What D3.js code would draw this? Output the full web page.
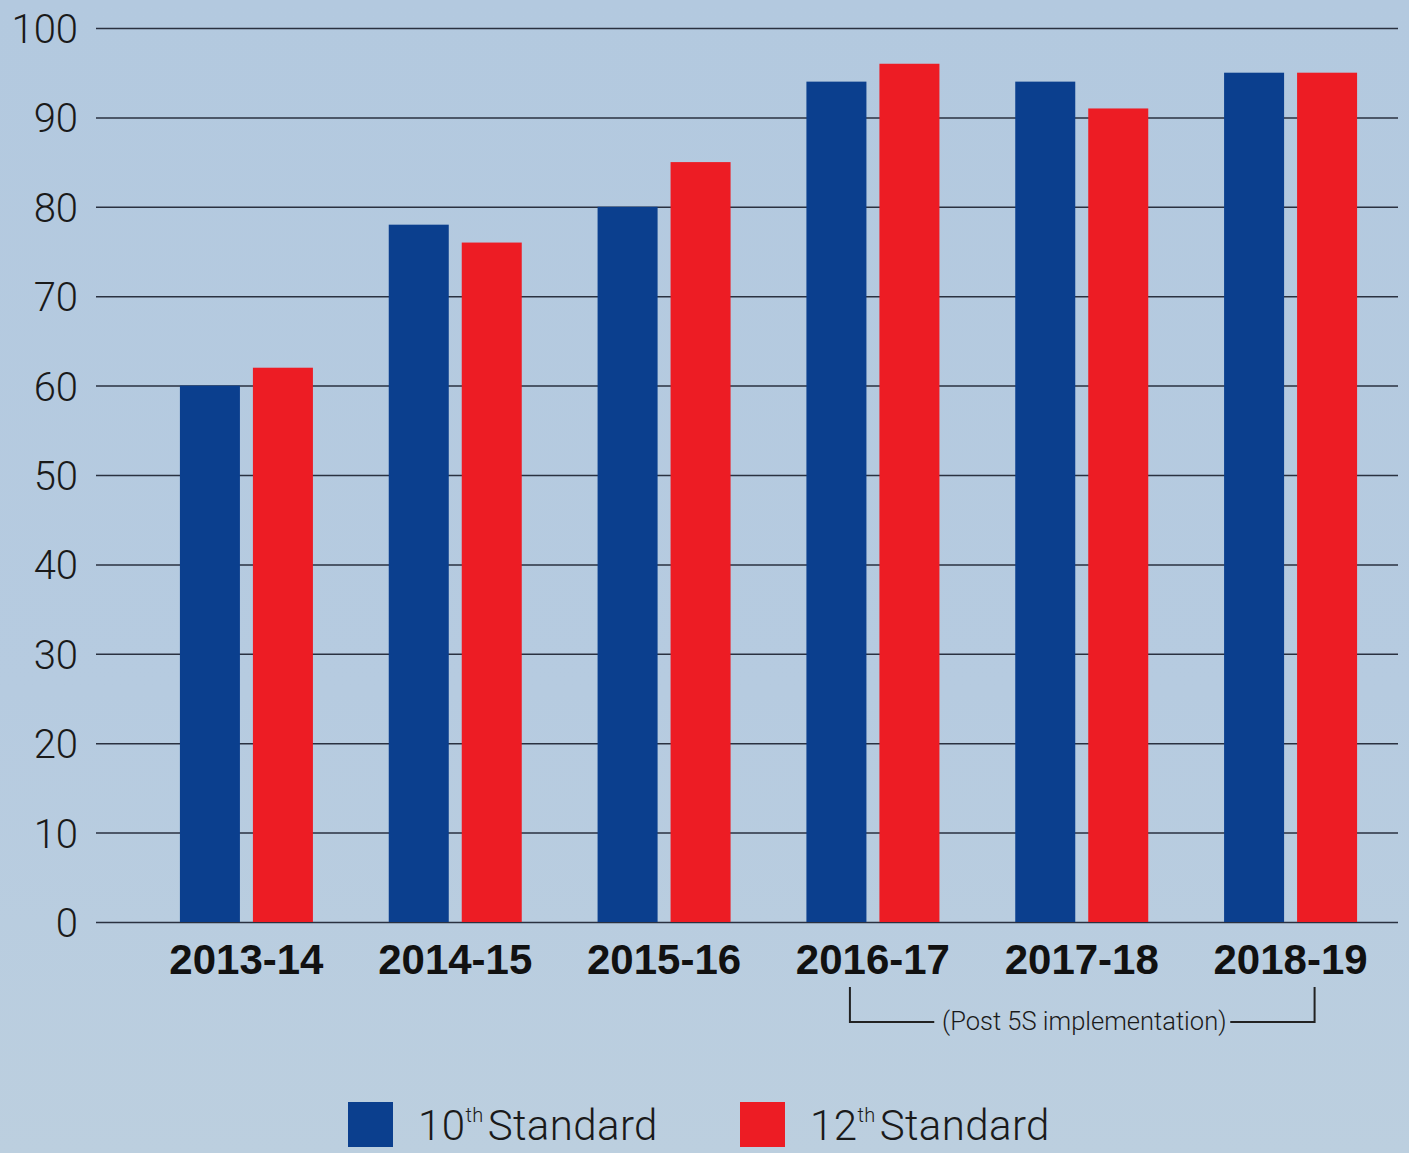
<!DOCTYPE html>
<html>
<head>
<meta charset="utf-8">
<script src="https://cdn.jsdelivr.net/npm/d3@7"></script>
<style>
body{margin:0;padding:0;}
svg{display:block;}
</style>
</head>
<body>
<svg id="chart" width="1409" height="1153"></svg>
<script>
var years = ["2013-14","2014-15","2015-16","2016-17","2017-18","2018-19"]
var series = ["10th","12th"]
var tenth = [60,78,80,94,94,95]
var twelfth = [62,76,85,96,91,95]
var yTicks = [0,10,20,30,40,50,60,70,80,90,100]
var colors = ["#0b3f8e","#ed1c24"]
var note = "(Post 5S implementation)"

var svg = d3.select("#chart")
var W = 1409, H = 1153

// background
var defs = svg.append("defs")
var grad = defs.append("linearGradient").attr("id","bg").attr("x1",0).attr("y1",0).attr("x2",0).attr("y2",1)
grad.append("stop").attr("offset","0%").attr("stop-color","#b3c9df")
grad.append("stop").attr("offset","60%").attr("stop-color","#b6cbe0")
grad.append("stop").attr("offset","100%").attr("stop-color","#bccfdf")
svg.append("rect").attr("width",W).attr("height",H).attr("fill","url(#bg)")

var y = d3.scaleLinear().domain([0,100]).range([922,28])
var x0 = d3.scaleBand().domain(years).range([142,1395]).padding(0)
var x1 = d3.scaleBand().domain(series).range([-66.5,66.5]).paddingInner(0.178).paddingOuter(0)

var data = years.map(function(d,i){return {year:d, vals:[tenth[i],twelfth[i]]}})

// gridlines + y labels
var yAxis = d3.axisLeft(y).tickValues(yTicks).tickSize(-(1398-96)).tickPadding(18)
var ga = svg.append("g").attr("transform","translate(96,0)").call(yAxis)
ga.select(".domain").remove()
ga.selectAll(".tick line").attr("stroke","#2a3140").attr("stroke-width",1.5)
ga.selectAll(".tick text")
	.attr("font-family","Roboto, 'Liberation Sans', sans-serif")
	.attr("font-weight",300)
	.attr("font-size",40)
	.attr("fill","#1a1a1a")
	.attr("dy","0.36em")

// bars
var groups = svg.append("g").selectAll("g").data(data).enter().append("g")
	.attr("transform",function(d){return "translate(" + (x0(d.year)+x0.bandwidth()/2) + ",0)"})
groups.selectAll("rect").data(function(d){return d.vals.map(function(v,i){return {s:series[i],v:v,i:i}})}).enter().append("rect")
	.attr("x",function(d){return x1(d.s)})
	.attr("width",x1.bandwidth())
	.attr("y",function(d){return y(d.v)})
	.attr("height",function(d){return y(0)-y(d.v)})
	.attr("fill",function(d){return colors[d.i]})

// x labels
svg.append("g").selectAll("text").data(years).enter().append("text")
	.attr("x",function(d){return x0(d)+x0.bandwidth()/2})
	.attr("y",974)
	.attr("text-anchor","middle")
	.attr("font-family","'Liberation Sans', Arial, sans-serif")
	.attr("font-weight","bold")
	.attr("font-size",42)
	.attr("fill","#111")
	.text(function(d){return d})

// bracket for post 5S years
var bx1 = x0("2016-17")+x0.bandwidth()/2-23
var bx2 = x0("2018-19")+x0.bandwidth()/2+24
var by0 = 987, by1 = 1022
var nx = (bx1+bx2)/2 + 2
var br = svg.append("g").attr("stroke","#222").attr("stroke-width",2).attr("fill","none")
br.append("path").attr("d","M"+bx1+","+by0+"V"+by1+"H"+(nx-150))
br.append("path").attr("d","M"+(nx+146)+","+by1+"H"+bx2+"V"+by0)
svg.append("text").attr("x",nx).attr("y",by1+8)
	.attr("text-anchor","middle")
	.attr("font-family","Roboto, 'Liberation Sans', sans-serif")
	.attr("font-weight",300)
	.attr("font-size",25.5)
	.attr("fill","#1a1a1a")
	.text(note)

// legend
var legX = [348,740]
var leg = svg.append("g").selectAll("g").data(series).enter().append("g")
	.attr("transform",function(d,i){return "translate(" + legX[i] + ",1102)"})
leg.append("rect").attr("width",45).attr("height",45).attr("fill",function(d,i){return colors[i]})
var lt = leg.append("text").attr("x",70).attr("y",38)
	.attr("font-family","Roboto, 'Liberation Sans', sans-serif")
	.attr("font-weight",300)
	.attr("font-size",42)
	.attr("letter-spacing",0.4)
	.attr("fill","#1a1a1a")
lt.append("tspan").text(function(d){return d.replace("th","")})
lt.append("tspan").attr("font-size",20).attr("dy",-18).text("th")
lt.append("tspan").attr("dy",18).attr("dx",4).text("Standard")
</script>
</body>
</html>
